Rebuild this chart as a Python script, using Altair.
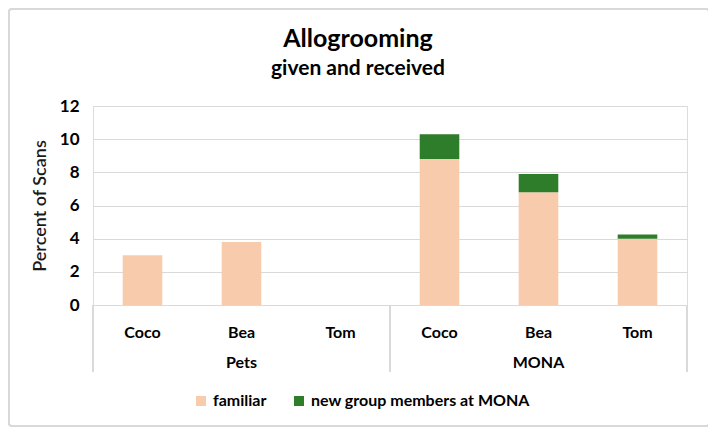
import altair as alt
import pandas as pd

groups = ["Pets", "Pets", "Pets", "MONA", "MONA", "MONA"]
names = ["Coco", "Bea", "Tom", "Coco", "Bea", "Tom"]
familiar = [3.0, 3.8, 0.0, 8.8, 6.8, 4.0]
new_members = [0.0, 0.0, 0.0, 1.5, 1.1, 0.25]
series = ["familiar", "new group members at MONA"]
colors = ["#F8CBAD", "#2E7D2A"]
group_labels = ["Pets", "MONA"]
group_center_member = ["Bea", "Bea"]
title_text = "Allogrooming"
subtitle_text = "given and received"

keys = [f"{g}|{n}" for g, n in zip(groups, names)]

rows = []
for k, g, n, f, m in zip(keys, groups, names, familiar, new_members):
    rows.append({"key": k, "group": g, "name": n, "series": series[0], "value": f, "order": 0})
    rows.append({"key": k, "group": g, "name": n, "series": series[1], "value": m, "order": 1})
df = pd.DataFrame(rows)

cats = pd.DataFrame({"key": keys, "name": names})
grp = pd.DataFrame({"key": [f"{g}|{c}" for g, c in zip(group_labels, group_center_member)],
                    "group": group_labels})
titles = pd.DataFrame({"t": [title_text]})
subtitles = pd.DataFrame({"t": [subtitle_text]})

FONT = "Lato"
W, H = 594, 199

xscale = alt.Scale(domain=keys, paddingInner=0.6, paddingOuter=0.3)

bars = alt.Chart(df).mark_bar(strokeWidth=0).encode(
    x=alt.X("key:N", scale=xscale, axis=None, sort=keys),
    y=alt.Y("value:Q", stack="zero",
            scale=alt.Scale(domain=[0, 12]),
            axis=alt.Axis(values=[0, 2, 4, 6, 8, 10, 12], title="Percent of Scans",
                          domain=False, ticks=False, labelPadding=14,
                          labelFont=FONT, labelFontSize=17, labelFontWeight="bold",
                          labelColor="#000000",
                          titleFont=FONT, titleFontSize=18, titleFontWeight=600,
                          titleColor="#1a1a1a", titlePadding=10,
                          gridColor="#d9d9d9", gridWidth=1)),
    color=alt.Color("series:N", scale=alt.Scale(domain=series, range=colors),
                    legend=alt.Legend(title=None, orient="none", direction="horizontal",
                                      legendX=100, legendY=287,
                                      symbolType="square", symbolSize=100,
                                      symbolStrokeWidth=0, labelFont=FONT,
                                      labelFontSize=16, labelFontWeight="bold",
                                      labelColor="#000000", columnPadding=24,
                                      labelOffset=4, labelLimit=400)),
    order=alt.Order("order:Q"),
)

cat_text = alt.Chart(cats).mark_text(font=FONT, fontSize=16, fontWeight="bold",
                                     color="#000000", baseline="middle").encode(
    x=alt.X("key:N", scale=xscale, axis=None, sort=keys),
    y=alt.value(227),
    text="name:N",
)

grp_text = alt.Chart(grp).mark_text(font=FONT, fontSize=16, fontWeight="bold",
                                    color="#000000", baseline="middle").encode(
    x=alt.X("key:N", scale=xscale, axis=None, sort=keys),
    y=alt.value(257),
    text="group:N",
)

title_mark = alt.Chart(titles).mark_text(font=FONT, fontSize=25, fontWeight="bold",
                                         color="#000000", baseline="alphabetic",
                                         align="center").encode(
    x=alt.value(265), y=alt.value(-59), text="t:N")
subtitle_mark = alt.Chart(subtitles).mark_text(font=FONT, fontSize=21, fontWeight="bold",
                                               color="#000000", baseline="alphabetic",
                                               align="center").encode(
    x=alt.value(265), y=alt.value(-31), text="t:N")

div_left = alt.Chart(cats).mark_rule(color="#d9d9d9", strokeWidth=1).encode(
    x=alt.value(0), y=alt.value(H), y2=alt.value(266))
div_mid = alt.Chart(cats).mark_rule(color="#d9d9d9", strokeWidth=1).encode(
    x=alt.value(W / 2), y=alt.value(H), y2=alt.value(266))
div_right = alt.Chart(cats).mark_rule(color="#d9d9d9", strokeWidth=1).encode(
    x=alt.value(W), y=alt.value(H), y2=alt.value(266))

border = alt.Chart(cats).mark_rect(fill=None, stroke="#d9d9d9", strokeWidth=1.5,
                                   cornerRadius=3).encode(
    x=alt.value(-84), x2=alt.value(616), y=alt.value(-97), y2=alt.value(320))

chart = alt.layer(border, bars, cat_text, grp_text, div_left, div_mid, div_right,
                  title_mark, subtitle_mark).properties(
    width=W, height=H,
    autosize=alt.AutoSizeParams(type="none"),
    padding={"left": 85, "top": 98, "right": 21, "bottom": 122},
).configure_view(stroke=None).configure(background="white")

chart.save("out.html", embed_options={"renderer": "svg", "actions": False})
